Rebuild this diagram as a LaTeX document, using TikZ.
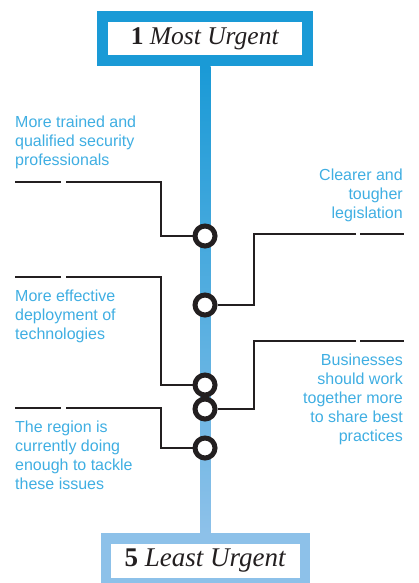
\documentclass[tikz,border=0pt]{standalone}
\usepackage{fontspec}
\setmainfont{Liberation Serif}
\setsansfont{Liberation Sans}
\usetikzlibrary{calc, positioning, backgrounds}

\definecolor{topblue}{HTML}{1A9AD6}
\definecolor{lowblue}{HTML}{8DC1E9}
\definecolor{labelblue}{HTML}{3FAEE2}
\definecolor{inkdark}{HTML}{231F20}

\begin{document}
\begin{tikzpicture}[x=1pt, y=-1pt,
    rankbox/.style={draw, line width=11pt, fill=white, inner sep=0pt,
      text=inkdark},
    ring/.style={circle, draw=inkdark, line width=5pt, fill=white,
      minimum size=20pt, inner sep=0pt},
    leader/.style={draw=inkdark, line width=1.1pt},
    tick/.style={draw=inkdark, line width=2.8pt},
    answer/.style={text=labelblue, inner sep=0pt,
      font=\sffamily\fontsize{16}{18.8}\selectfont}]
  \useasboundingbox (0,0) rectangle (419,583);

  % Boxes at both ends of the scale
  \node[rankbox, draw=topblue, minimum width=205pt, minimum height=44pt,
    font=\fontsize{25.5}{27}\selectfont]
    (top) at (205,39) {\textbf{1} \textit{Most Urgent}};
  \node[rankbox, draw=lowblue, line width=10.5pt, minimum width=199pt, minimum height=44.5pt,
    font=\fontsize{27}{29}\selectfont]
    (bottom) at (205.5,560.5) {\textbf{5} \textit{Least Urgent}};

  % Answers (placed by the baseline of their last line)
  \node[answer, anchor=base west, align=left] (t1) at (15,165)
    {More trained and\\qualified security\\professionals};
  \node[answer, anchor=base east, align=right] (t2) at (403,218)
    {Clearer and\\tougher\\legislation};
  \node[answer, anchor=base west, align=left] (t3) at (15,339)
    {More effective\\deployment of\\technologies};
  \node[answer, anchor=base east, align=right] (t4) at (403,441)
    {Businesses\\should work\\together more\\to share best\\practices};
  \node[answer, anchor=base west, align=left] (t5) at (15,489)
    {The region is\\currently doing\\enough to tackle\\these issues};

  % Positions on the scale
  \node[ring] (p1) at (205,236) {};
  \node[ring] (p2) at (205,305) {};
  \node[ring] (p3) at (205,385) {};
  \node[ring] (p4) at (205,409) {};
  \node[ring] (p5) at (205,448) {};

  % Lanes of the leader lines
  \coordinate (laneL) at (161,0);
  \coordinate (laneR) at (254,0);

  % Start of each leader line, after its short bar
  \coordinate (a1) at (66,182);
  \coordinate (a2) at (356,234);
  \coordinate (a3) at (66,277);
  \coordinate (a4) at (356,341);
  \coordinate (a5) at (66,408);

  \begin{scope}[on background layer]
    % Scale between the boxes
    \shade[top color=topblue, bottom color=lowblue]
      ($(top.south)+(-5,0)$) rectangle ($(bottom.north)+(5,0)$);
    % Leader lines: short bar, then thin line to the ring
    \foreach \i in {1,3,5}{
      \draw[tick] ($(a\i)+(-51,0)$) -- ($(a\i)+(-5,0)$);
      \draw[leader] (a\i) -- (a\i -| laneL) |- (p\i);
    }
    \foreach \i in {2,4}{
      \draw[tick] ($(a\i)+(4,0)$) -- ($(a\i)+(48,0)$);
      \draw[leader] (a\i) -- (a\i -| laneR) |- (p\i);
    }
  \end{scope}
\end{tikzpicture}
\end{document}
